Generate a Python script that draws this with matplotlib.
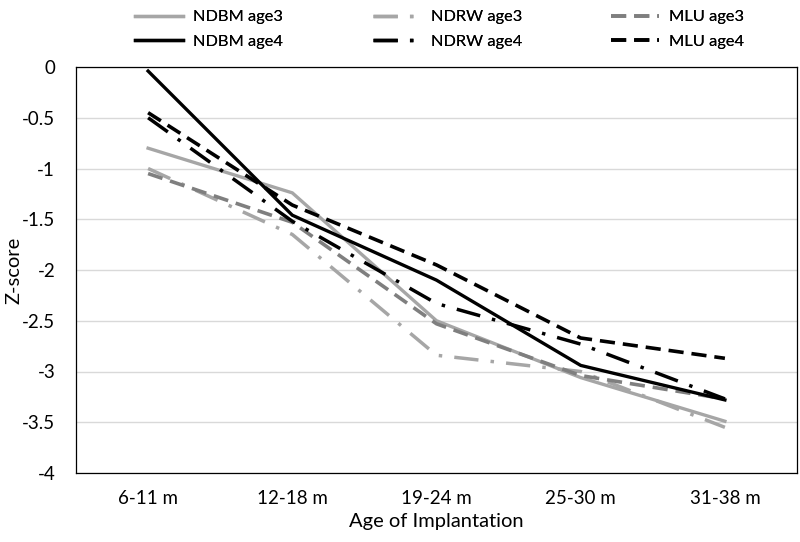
import matplotlib
matplotlib.use("Agg")
import matplotlib.pyplot as plt

# Z-scores
categories = ['6-11 m', '12-18 m', '19-24 m', '25-30 m', '31-38 m']
ndbm_age3 = [-0.80, -1.24, -2.50, -3.06, -3.49]
ndrw_age3 = [-1.00, -1.65, -2.84, -3.00, -3.55]
mlu_age3 = [-1.05, -1.53, -2.53, -3.04, -3.27]
ndbm_age4 = [-0.04, -1.46, -2.10, -2.94, -3.28]
ndrw_age4 = [-0.50, -1.52, -2.33, -2.73, -3.27]
mlu_age4 = [-0.45, -1.36, -1.95, -2.67, -2.87]
y_ticks = [0, -0.5, -1, -1.5, -2, -2.5, -3, -3.5, -4]

plt.rcParams['font.family'] = ['Lato', 'DejaVu Sans']

fig = plt.figure(figsize=(8, 5.42), dpi=100)
ax = fig.add_axes([76 / 800, 1 - 473 / 542, 721 / 800, 406 / 542])

x = list(range(len(categories)))
light = '#a6a6a6'
mid = '#7f7f7f'
dash_dot = (7, 3.5, 1, 3.5)
dash = (4.2, 2.2)

lines = {}
lines['NDBM age3'], = ax.plot(x, ndbm_age3, color=light, lw=2.4, solid_joinstyle='miter')
lines['NDRW age3'], = ax.plot(x, ndrw_age3, color=light, lw=2.5, dashes=dash_dot)
lines['MLU age3'], = ax.plot(x, mlu_age3, color=mid, lw=2.6, dashes=dash)
lines['NDBM age4'], = ax.plot(x, ndbm_age4, color='black', lw=2.4, solid_joinstyle='miter')
lines['NDRW age4'], = ax.plot(x, ndrw_age4, color='black', lw=2.5, dashes=dash_dot)
lines['MLU age4'], = ax.plot(x, mlu_age4, color='black', lw=2.6, dashes=dash)

ax.set_xlim(-0.5, len(categories) - 0.5)
ax.set_ylim(-4, 0)
ax.set_yticks(y_ticks)
ax.set_yticklabels([f'{t:g}' for t in y_ticks])
ax.set_xticks(x)
ax.set_xticklabels(categories)
ax.tick_params(length=0, labelsize=13.5, colors='black')
ax.tick_params(axis='y', pad=15)
ax.tick_params(axis='x', pad=12)
ax.yaxis.grid(True, color='#d9d9d9', lw=1.0)
ax.set_axisbelow(True)
for s in ax.spines.values():
    s.set_color('black')
    s.set_linewidth(0.9)

ax.set_xlabel('Age of Implantation', fontsize=14.5)
ax.xaxis.set_label_coords(0.5, -0.098)
ax.set_ylabel('Z-score', fontsize=14.5)
ax.yaxis.set_label_coords(-0.074, 0.5)

# one legend per column, Excel style (age3 row on top, age4 below)
columns = [('NDBM age3', 'NDBM age4', 127),
           ('NDRW age3', 'NDRW age4', 365),
           ('MLU age3', 'MLU age4', 603)]
for top, bottom, x0 in columns:
    leg = fig.legend([lines[top], lines[bottom]], [top, bottom], frameon=False,
                     loc='upper left', bbox_to_anchor=(x0 / 800, 0.997),
                     borderpad=0, fontsize=11.8, handlelength=2.9,
                     handletextpad=0.6, labelspacing=0.6)
    fig.add_artist(leg)

fig.savefig('out.png', dpi=100, facecolor='white')
